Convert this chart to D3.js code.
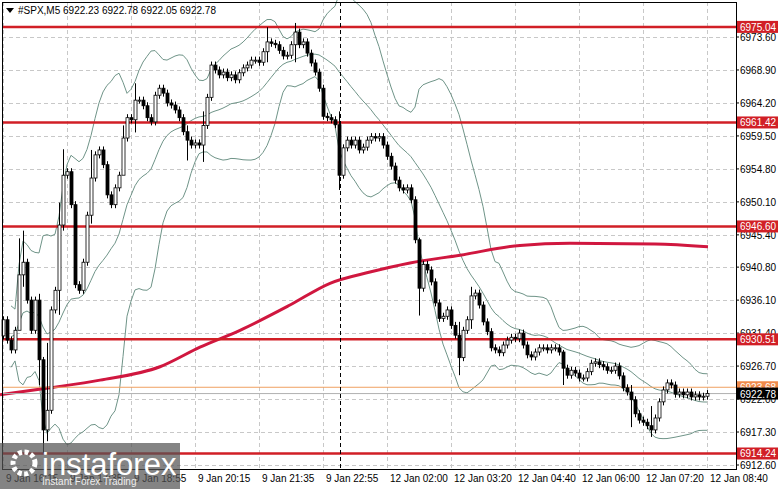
<!DOCTYPE html>
<html><head><meta charset="utf-8">
<script src="https://cdn.jsdelivr.net/npm/d3@7"></script>
<style>body{margin:0;background:#fff}svg{display:block;font-family:"Liberation Sans",Arial,sans-serif}</style>
</head><body>
<script>
// closes per 5-minute bar (open = previous close)
var closes = [6933.3,6930.4,6929.0,6931.8,6939.7,6941.5,6936.1,6931.8,6936.1,6927.6,
6917.6,6920.4,6934.7,6937.5,6946.8,6953.9,6954.4,6949.7,6938.3,6937.5,
6941.5,6948.2,6953.5,6956.8,6957.5,6955.4,6951.1,6949.7,6952.1,6953.9,
6959.2,6962.1,6961.8,6964.6,6964.6,6963.8,6962.1,6961.5,6965.3,6966.3,
6965.6,6964.2,6963.9,6963.2,6962.1,6960.1,6958.9,6958.2,6958.5,6958.2,
6961.0,6965.0,6969.6,6968.9,6968.2,6968.6,6967.8,6968.2,6967.5,6968.5,
6969.2,6969.6,6970.3,6970.3,6970.0,6971.5,6972.9,6972.7,6972.5,6971.7,
6970.9,6971.0,6972.5,6974.3,6972.5,6972.9,6971.3,6969.9,6968.6,6966.3,
6962.3,6962.1,6961.8,6961.1,6953.9,6957.8,6958.9,6958.2,6958.9,6957.5,
6957.9,6958.9,6959.4,6959.2,6959.4,6958.2,6956.6,6955.2,6953.2,6952.1,
6951.8,6952.1,6950.4,6944.7,6937.8,6941.2,6940.4,6938.7,6935.7,6933.5,
6933.8,6934.7,6932.5,6931.1,6927.9,6931.8,6933.3,6936.7,6937.1,6935.4,
6933.0,6931.6,6929.3,6929.0,6928.6,6929.7,6930.4,6930.8,6930.6,6931.4,
6929.7,6928.3,6928.0,6928.7,6929.3,6929.3,6929.0,6929.3,6929.3,6928.7,
6926.4,6925.4,6926.1,6925.7,6925.0,6925.0,6925.9,6927.1,6927.3,6926.9,
6926.6,6926.1,6926.1,6926.7,6925.3,6923.6,6923.0,6921.9,6919.9,6919.0,
6918.7,6918.2,6917.6,6919.3,6921.6,6923.3,6924.3,6924.0,6922.7,6923.0,
6922.6,6923.0,6922.3,6922.6,6922.3,6922.4,6922.78];
var firstOpen = 6931.0;
// longer wicks seen in the picture: [bar, high, low]
var wicks = [[4,6944.9,6935],[5,6946,6938],[9,6937,6924],[10,6928,6914.3],[11,6930,6916],
[14,6950,6934],[15,6957.6,6946],[22,6957.5,6947],[30,6961,6954],[33,6967,6960],
[46,6961,6956],[50,6963,6955.8],[66,6975,6970],[73,6975.6,6970],[84,6963,6951.8],
[104,6945,6933.9],[114,6933,6925.4],[117,6938,6932],[140,6929,6924],[157,6924,6918],[162,6921,6916.6]];
// 200-period moving average, sampled: [pixel x, price]
var ma = [[0,6922.6],[50,6923.6],[100,6924.7],[160,6926.6],[200,6929.4],[240,6931.8],[290,6935.4],
[330,6938.5],[370,6940.1],[410,6941.4],[460,6942.5],[520,6943.9],[570,6944.2],[655,6944.1],[708,6943.7]];
var levels = [6975.04,6961.42,6946.60,6930.51,6914.24];
var askLevel = 6923.68, bidLevel = 6922.78;
var priceTicks = ["6973.60","6968.90","6964.20","6959.50","6954.80","6950.10","6945.40","6940.80","6936.10","6931.40","6926.70","6922.00","6917.30","6912.60"];
var timeTicks = [[0,"9 Jan 16:15"],[16,"9 Jan 17:35"],[32,"9 Jan 18:55"],[48,"9 Jan 20:15"],[64,"9 Jan 21:35"],[80,"9 Jan 22:55"],[96,"12 Jan 02:00"],[112,"12 Jan 03:20"],[128,"12 Jan 04:40"],[144,"12 Jan 06:00"],[160,"12 Jan 07:20"],[176,"12 Jan 08:40"]];

var W = 781, H = 489, L = 2, R = 736, T = 2, B = 469;
var svg = d3.select("body").append("svg").attr("width", W).attr("height", H);
var y = d3.scaleLinear().domain([6912.6, 6973.6]).range([465, 37]);
var x = d3.scaleLinear().domain([0, 176]).range([3, 707]);

var bars = closes.map(function (c, i) {
  var o = i ? closes[i - 1] : firstOpen;
  return { i: i, o: o, c: c, h: Math.max(o, c) + 0.5, l: Math.min(o, c) - 0.5 };
});
wicks.forEach(function (w) { bars[w[0]].h = w[1]; bars[w[0]].l = w[2]; });

// grid
var g = svg.append("g");
g.selectAll(".hg").data(priceTicks).enter().append("line")
  .attr("x1", L).attr("x2", R).attr("y1", function (d) { return Math.round(y(+d)) + 0.5; })
  .attr("y2", function (d) { return Math.round(y(+d)) + 0.5; })
  .attr("stroke", "#c8c8c8").attr("stroke-dasharray", "4,3");
g.selectAll(".vg").data(timeTicks).enter().append("line")
  .attr("y1", T).attr("y2", B).attr("x1", function (d) { return Math.round(x(d[0])) + 0.5; })
  .attr("x2", function (d) { return Math.round(x(d[0])) + 0.5; })
  .attr("stroke", "#c8c8c8").attr("stroke-dasharray", "4,3");

// bollinger bands (20, 2) from closes
var mid = [], up = [], dn = [];
closes.forEach(function (c, i) {
  var w = closes.slice(Math.max(0, i - 19), i + 1), m = d3.mean(w), s = d3.deviation(w) || 0;
  mid.push([i, m]); up.push([i, m + 2 * s]); dn.push([i, m - 2 * s]);
});
var ln = d3.line().x(function (d) { return x(d[0]); }).y(function (d) { return y(d[1]); });
[mid, up, dn].forEach(function (s) {
  svg.append("path").attr("d", ln(s.slice(2))).attr("fill", "none").attr("stroke", "#6f9488").attr("stroke-width", 1);
});

// moving average
var lnPx = d3.line().curve(d3.curveMonotoneX).x(function (d) { return d[0]; }).y(function (d) { return y(d[1]); });
svg.append("path").attr("d", lnPx(ma)).attr("fill", "none").attr("stroke", "#d0173f").attr("stroke-width", 3);

// level lines
svg.selectAll(".lv").data(levels).enter().append("line")
  .attr("x1", L).attr("x2", R).attr("y1", function (d) { return y(d); }).attr("y2", function (d) { return y(d); })
  .attr("stroke", "#d11f26").attr("stroke-width", 2.5);
svg.append("line").attr("x1", L).attr("x2", R).attr("y1", y(askLevel)).attr("y2", y(askLevel)).attr("stroke", "#f0a060").attr("stroke-width", 1);
svg.append("line").attr("x1", L).attr("x2", R).attr("y1", y(bidLevel)).attr("y2", y(bidLevel)).attr("stroke", "#b0b0b0").attr("stroke-width", 1);

// separator
svg.append("line").attr("x1", 340.5).attr("x2", 340.5).attr("y1", T).attr("y2", B)
  .attr("stroke", "#000").attr("stroke-dasharray", "4,3");

// candles
var cg = svg.selectAll(".c").data(bars).enter().append("g");
cg.append("line").attr("x1", function (d) { return Math.round(x(d.i)) + 0.5; })
  .attr("x2", function (d) { return Math.round(x(d.i)) + 0.5; })
  .attr("y1", function (d) { return y(d.h); }).attr("y2", function (d) { return y(d.l); })
  .attr("stroke", "#000");
cg.append("rect").attr("x", function (d) { return Math.round(x(d.i)) - 1; })
  .attr("y", function (d) { return y(Math.max(d.o, d.c)); }).attr("width", 3)
  .attr("height", function (d) { return Math.max(1, Math.abs(y(d.o) - y(d.c))); })
  .attr("fill", function (d) { return d.c >= d.o ? "#fff" : "#000"; })
  .attr("stroke", "#000").attr("stroke-width", 0.8);

// frame
svg.append("rect").attr("x", L + 0.5).attr("y", T + 0.5).attr("width", R - L).attr("height", B - T)
  .attr("fill", "none").attr("stroke", "#000");

// price axis
svg.selectAll(".pt").data(priceTicks).enter().append("text")
  .attr("x", 740).attr("y", function (d) { return y(+d) + 4; }).attr("font-size", 10).text(function (d) { return d; });
svg.selectAll(".ptk").data(priceTicks).enter().append("line")
  .attr("x1", R).attr("x2", R + 3).attr("y1", function (d) { return y(+d); }).attr("y2", function (d) { return y(+d); }).attr("stroke", "#000");
function tag(v, fill, col) {
  svg.append("rect").attr("x", 737).attr("y", y(v) - 6).attr("width", 41).attr("height", 12).attr("fill", fill);
  svg.append("text").attr("x", 740).attr("y", y(v) + 4).attr("font-size", 10).attr("fill", col).text(v.toFixed(2));
}
levels.forEach(function (v) { tag(v, "#d11f26", "#fff"); });
tag(askLevel, "#f08a4b", "#fff");
tag(bidLevel, "#000", "#fff");

// time axis
svg.selectAll(".tt").data(timeTicks).enter().append("text")
  .attr("x", function (d) { return x(d[0]) + 3; }).attr("y", 482).attr("font-size", 10).text(function (d) { return d[1]; });

// header
svg.append("path").attr("d", "M6,8 L14,8 L10,13 Z").attr("fill", "#000");
svg.append("text").attr("x", 18).attr("y", 14).attr("font-size", 10).text("#SPX,M5  6922.23 6922.78 6922.05 6922.78");

// watermark
svg.append("rect").attr("x", 0).attr("y", 443).attr("width", 180).attr("height", 46).attr("fill", "#555").attr("opacity", 0.72);
svg.append("circle").attr("cx", 24).attr("cy", 463).attr("r", 11).attr("fill", "none").attr("stroke", "#fff").attr("stroke-width", 5).attr("stroke-dasharray", "4,2.5");
svg.append("text").attr("x", 42).attr("y", 475).attr("font-size", 31).attr("fill", "#fff").text("instaforex");
svg.append("text").attr("x", 42).attr("y", 485).attr("font-size", 10).attr("fill", "#eee").text("Instant Forex Trading");
</script>
</body></html>
